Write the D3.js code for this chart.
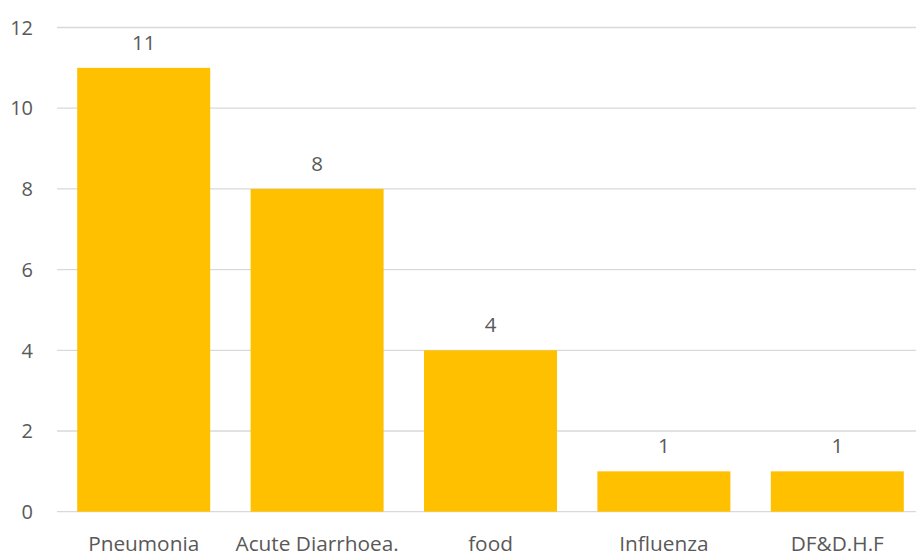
<!DOCTYPE html>
<html><head><meta charset="utf-8">
<script src="https://cdn.jsdelivr.net/npm/d3@7"></script>
<style>body{margin:0;background:#fff}svg{display:block}text{font-family:"Open Sans",sans-serif;fill:#595959}</style>
</head><body>
<svg id="c" width="916" height="557"></svg>
<script>
const categories = ["Pneumonia","Acute Diarrhoea.","food","Influenza","DF&D.H.F"];
const values = [11,8,4,1,1];
const yTicks = [0,2,4,6,8,10,12];

const svg = d3.select("#c");
const x = d3.scaleBand().domain(categories).range([57,924]).paddingInner(0.233).paddingOuter(0.1165);
const y = d3.scaleLinear().domain([0,12]).range([511.7,27.5]);

svg.append("g").selectAll("line").data(yTicks).join("line")
  .attr("x1",57).attr("x2",916).attr("y1",d=>y(d)).attr("y2",d=>y(d))
  .attr("stroke","#d9d9d9").attr("stroke-width",1.3);

svg.append("g").selectAll("text").data(yTicks).join("text")
  .attr("x",33).attr("y",d=>y(d)).attr("dy","0.36em").attr("text-anchor","end")
  .style("font-size","20px").text(d=>d);

svg.append("g").selectAll("rect").data(values).join("rect")
  .attr("x",(d,i)=>x(categories[i])).attr("width",x.bandwidth())
  .attr("y",d=>y(d)).attr("height",d=>y(0)-y(d)).attr("fill","#FFC000");

svg.append("g").selectAll("text").data(values).join("text")
  .attr("x",(d,i)=>x(categories[i])+x.bandwidth()/2).attr("y",d=>y(d)-18)
  .attr("text-anchor","middle").style("font-size","20.5px").text(d=>d);

svg.append("g").selectAll("text").data(categories).join("text")
  .attr("x",d=>x(d)+x.bandwidth()/2).attr("y",551)
  .attr("text-anchor","middle").style("font-size","20.8px").text(d=>d);
</script>
</body></html>
